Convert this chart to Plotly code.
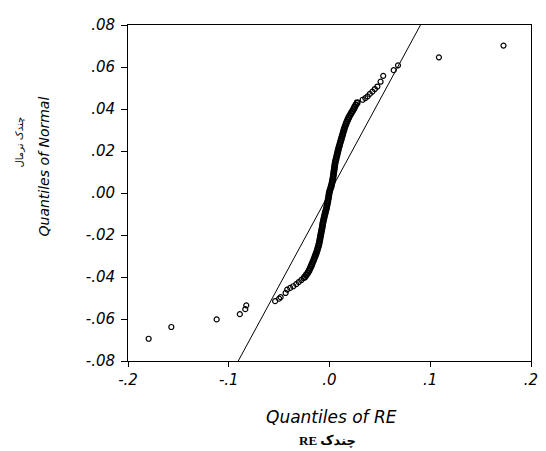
import plotly.graph_objects as go

# Quantiles of RE (x) and quantiles of Normal (y)
lower_tail_x = [-0.1795, -0.157, -0.112, -0.089, -0.0836, -0.0826, -0.054, -0.0500,
                -0.0485, -0.0436, -0.042, -0.039, -0.036, -0.033, -0.0305, -0.028, -0.0257]
lower_tail_y = [-0.0694, -0.0638, -0.0602, -0.0577, -0.0553, -0.0535, -0.0515, -0.0503,
                -0.0496, -0.0476, -0.046, -0.0452, -0.0444, -0.0434, -0.0424, -0.0414, -0.0405]

core_y = [-0.040, -0.039, -0.038, -0.037, -0.036, -0.035, -0.034, -0.033, -0.032, -0.031,
          -0.030, -0.029, -0.028, -0.027, -0.026, -0.025, -0.024, -0.023, -0.022, -0.021,
          -0.020, -0.019, -0.018, -0.017, -0.016, -0.015, -0.014, -0.013, -0.012, -0.011,
          -0.010, -0.009, -0.008, -0.007, -0.006, -0.005, -0.004, -0.003, -0.002, -0.001,
          0.000, 0.001, 0.002, 0.003, 0.004, 0.005, 0.006, 0.007, 0.008, 0.009,
          0.010, 0.011, 0.012, 0.013, 0.014, 0.015, 0.016, 0.017, 0.018, 0.019,
          0.020, 0.021, 0.022, 0.023, 0.024, 0.025, 0.026, 0.027, 0.028, 0.029,
          0.030, 0.031, 0.032, 0.033, 0.034, 0.035, 0.036, 0.037, 0.038, 0.039,
          0.040, 0.041, 0.042, 0.043]
core_x = [-0.0245, -0.0230, -0.0215, -0.0203, -0.0193, -0.0184, -0.0175, -0.0167, -0.0158, -0.0150,
          -0.0142, -0.0134, -0.0127, -0.0120, -0.0114, -0.0108, -0.0103, -0.0099, -0.0095, -0.0091,
          -0.0087, -0.0083, -0.0079, -0.0075, -0.0071, -0.0068, -0.0064, -0.0060, -0.0055, -0.0050,
          -0.0045, -0.0040, -0.0034, -0.0029, -0.0025, -0.0021, -0.0017, -0.0013, -0.0009, -0.0006,
          -0.0003, 0.0002, 0.0009, 0.0016, 0.0021, 0.0026, 0.0030, 0.0034, 0.0037, 0.0040,
          0.0043, 0.0046, 0.0049, 0.0052, 0.0055, 0.0059, 0.0064, 0.0069, 0.0074, 0.0079,
          0.0084, 0.0089, 0.0095, 0.0101, 0.0107, 0.0113, 0.0119, 0.0125, 0.0131, 0.0137,
          0.0143, 0.0149, 0.0157, 0.0165, 0.0173, 0.0182, 0.0192, 0.0203, 0.0215, 0.0228,
          0.0240, 0.0250, 0.0262, 0.0275]

upper_tail_x = [0.0329, 0.0355, 0.0378, 0.0400, 0.0426, 0.0450, 0.0475, 0.0507, 0.0533,
                0.0637, 0.0680, 0.1086, 0.1727]
upper_tail_y = [0.0444, 0.0452, 0.0460, 0.0472, 0.0483, 0.0495, 0.0507, 0.0530, 0.0558,
                0.0585, 0.0608, 0.0646, 0.0702]

ref_line_x = [-0.0906, 0.0903]
ref_line_y = [-0.08, 0.08]

x_ticks = [-0.2, -0.1, 0.0, 0.1, 0.2]
x_tick_labels = ["-.2", "-.1", ".0", ".1", ".2"]
y_ticks = [-0.08, -0.06, -0.04, -0.02, 0.0, 0.02, 0.04, 0.06, 0.08]
y_tick_labels = ["-.08", "-.06", "-.04", "-.02", ".00", ".02", ".04", ".06", ".08"]

fig = go.Figure()
fig.add_trace(go.Scatter(
    x=ref_line_x, y=ref_line_y, mode="lines",
    line=dict(color="black", width=1), hoverinfo="skip", showlegend=False))
fig.add_trace(go.Scatter(
    x=lower_tail_x + upper_tail_x, y=lower_tail_y + upper_tail_y, mode="markers",
    marker=dict(symbol="circle-open", size=5, color="black", line=dict(width=1.2)),
    showlegend=False))
fig.add_trace(go.Scatter(
    x=core_x, y=core_y, mode="markers",
    marker=dict(symbol="circle-open", size=5, color="black", line=dict(width=1.8)),
    showlegend=False))

tickfont = dict(family="DejaVu Sans, sans-serif", size=15, color="black", style="italic")

# the page body has an 8px margin; the figure is sized so the plot lands where the reference's does
fig.update_layout(
    width=538, height=443,
    margin=dict(l=120, r=8, t=10, b=90),
    plot_bgcolor="white", paper_bgcolor="white",
    xaxis=dict(range=[-0.2, 0.2], tickvals=x_ticks, ticktext=x_tick_labels,
               showgrid=False, zeroline=False, showline=True, linecolor="black", linewidth=1,
               mirror=True, ticks="outside", ticklen=5, tickcolor="black", tickfont=tickfont),
    yaxis=dict(range=[-0.08, 0.08], tickvals=y_ticks, ticktext=y_tick_labels,
               showgrid=False, zeroline=False, showline=True, linecolor="black", linewidth=1,
               mirror=True, ticks="outside", ticklen=6, tickcolor="black", tickfont=tickfont,
               ticklabelstandoff=3),
    annotations=[
        dict(text="Quantiles of RE", xref="paper", yref="paper",
             x=(335 - 128) / 410, y=(361 - 418) / 343, showarrow=False,
             xanchor="center", yanchor="middle",
             font=dict(family="DejaVu Sans, sans-serif", size=17, color="black", style="italic")),
        dict(text="RE چندک", xref="paper", yref="paper",
             x=(331 - 128) / 410, y=(361 - 442) / 343, showarrow=False,
             xanchor="center", yanchor="middle",
             font=dict(family="Liberation Serif, DejaVu Sans, serif", size=13, color="black", weight="bold")),
        dict(text="Quantiles of Normal", xref="paper", yref="paper", textangle=-90,
             x=(43 - 128) / 410, y=(361 - 162) / 343, showarrow=False,
             xanchor="center", yanchor="middle",
             font=dict(family="DejaVu Sans, sans-serif", size=14, color="black", style="italic")),
        dict(text="چندک نرمال", xref="paper", yref="paper", textangle=-90,
             x=(18 - 128) / 410, y=(361 - 137) / 343, showarrow=False,
             xanchor="center", yanchor="middle",
             font=dict(family="DejaVu Sans, sans-serif", size=10, color="black")),
    ],
)

fig.write_html("out.html")
